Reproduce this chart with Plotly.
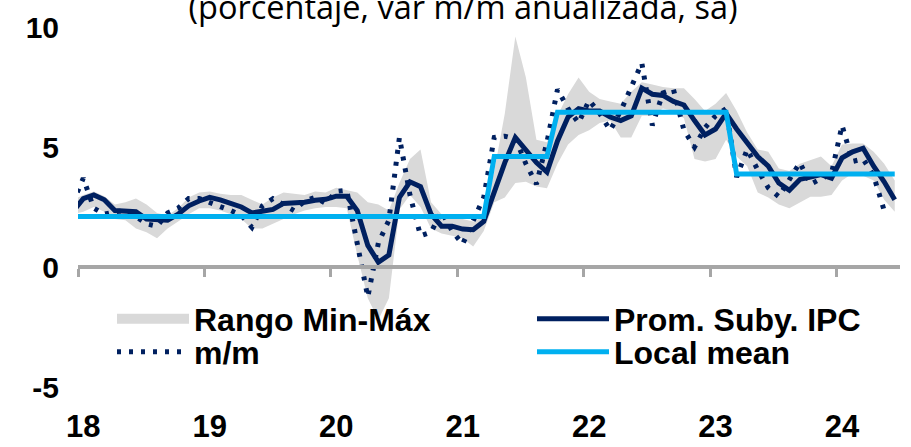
import plotly.graph_objects as go

# month index k (Jan-2018 = 0); first value is Dec-2017 (k=-1), clipped by axis
months = list(range(-1, 78))
year_labels = ["18", "19", "20", "21", "22", "23", "24"]

prom = [2.3, 2.85, 3.0, 2.8, 2.35, 2.35, 2.3, 2.0, 1.95, 1.95, 2.2, 2.55, 2.75,
        2.9, 2.8, 2.65, 2.5, 2.25, 2.3, 2.4, 2.65, 2.66, 2.7, 2.78, 2.82,
        2.95, 2.95, 2.35, 0.9, 0.2, 0.5, 2.9, 3.55, 3.35, 2.2, 1.7, 1.7,
        1.58, 1.55, 1.9, 3.2, 4.35, 5.4, 4.85, 4.35, 3.95, 5.25, 6.25, 6.6,
        6.5, 6.5, 6.25, 6.1, 6.3, 7.45, 7.2, 7.15, 6.9, 6.75, 6.1, 5.5,
        5.75, 6.4, 5.75, 5.2, 4.6, 4.2, 3.5, 3.2, 3.65, 3.75, 3.85, 3.7,
        4.55, 4.8, 4.95, 4.2, 3.55, 2.8]

mm = [2.65, 3.7, 2.45, 2.2, 2.3, 2.35, 2.1, 1.8, 1.7, 2.25, 2.45, 2.85, 2.85,
      2.7, 2.5, 2.35, 2.15, 1.65, 2.55, 2.85, 2.6, 2.35, 2.75, 2.9, 2.65,
      3.15, 3.2, 1.0, -1.25, 1.0, 1.95, 5.4, 3.0, 1.3, 1.45, 2.3, 1.5,
      0.95, 1.9, 2.9, 5.4, 5.45, 5.35, 4.3, 3.45, 5.2, 7.4, 6.6, 6.0,
      6.95, 6.4, 5.7, 6.5, 7.5, 8.5, 5.9, 7.25, 7.4, 5.7, 5.0, 5.8,
      6.3, 6.6, 3.75, 4.9, 4.05, 3.3, 2.93, 3.6, 4.35, 3.45, 3.7, 3.9,
      5.9, 4.4, 4.5, 3.8, 2.35]

band_hi = [2.8, 3.0, 3.15, 2.95, 2.6, 2.7, 2.85, 2.6, 2.25, 2.15, 2.45, 2.9, 3.1,
           3.15, 3.05, 3.0, 3.0, 2.8, 2.6, 2.9, 3.1, 3.05, 3.0, 3.15, 3.1,
           3.3, 3.2, 3.1, 2.7, 2.6, 2.35, 3.5, 4.5, 4.9, 2.7, 2.2, 2.1,
           2.0, 1.9, 2.1, 4.0, 6.4, 9.6, 7.9, 5.3, 5.2, 6.3, 7.2, 7.9,
           7.3, 7.0, 6.9, 6.8, 7.3, 7.7, 7.6, 7.5, 7.45, 7.45, 7.0, 6.5,
           6.8, 7.25, 6.5, 5.6, 4.9, 4.8, 4.1, 4.0, 4.3, 4.45, 4.6, 4.2,
           5.1, 5.15, 5.15, 4.8, 4.3, 3.6]

band_lo = [2.2, 2.3, 2.5, 2.3, 2.0, 1.95, 1.6, 1.45, 1.2, 1.6, 1.9, 2.2, 2.45,
           2.45, 2.35, 2.2, 2.0, 1.6, 1.6, 1.8, 2.0, 2.2, 2.35, 2.45, 2.5,
           2.5, 2.45, 0.5, -1.3, -2.2, -1.3, 2.4, 3.0, 2.5, 1.6, 1.4, 1.3,
           1.2, 0.85, 1.5, 2.7, 2.9, 3.5, 3.55, 3.35, 3.28, 4.3, 5.1, 5.5,
           5.7, 6.0, 6.1, 5.4, 5.4, 6.3, 6.3, 6.6, 6.5, 6.2, 4.5, 4.4,
           4.5, 5.3, 4.6, 4.2, 3.1, 2.9, 2.6, 2.45, 2.7, 2.93, 2.93, 3.0,
           3.6, 3.9, 3.8, 3.6, 2.8, 2.3]

local_mean = [2.1] * 40 + [4.6] * 6 + [6.45] * 17 + [3.87] * 16

NAVY = "#002060"
CYAN = "#00B0F0"
GREY_BAND = "#D9D9D9"
AXIS_GREY = "#A6A6A6"

xs = [k + 0.5 for k in months]
xs_mm = xs[:len(mm)]

BOLD = dict(family="Liberation Sans, Arial, sans-serif", size=31, color="black", weight="bold")

fig = go.Figure()
fig.add_trace(go.Scatter(x=xs, y=band_lo, mode="lines", line=dict(width=0),
                         showlegend=False, hoverinfo="skip"))
fig.add_trace(go.Scatter(x=xs, y=band_hi, mode="lines", line=dict(width=0),
                         fill="tonexty", fillcolor=GREY_BAND, showlegend=False,
                         hoverinfo="skip"))
fig.add_trace(go.Scatter(x=[None], y=[None], mode="lines", name="Rango Min-Máx",
                         line=dict(color=GREY_BAND, width=17), legend="legend"))
fig.add_trace(go.Scatter(x=xs_mm, y=mm, mode="lines", name="m/m",
                         line=dict(color=NAVY, width=5, dash="4px,8px"),
                         legend="legend2"))
fig.add_trace(go.Scatter(x=xs, y=prom, mode="lines", name="Prom. Suby. IPC",
                         line=dict(color=NAVY, width=5), legend="legend3"))
fig.add_trace(go.Scatter(x=xs, y=local_mean, mode="lines", name="Local mean",
                         line=dict(color=CYAN, width=5), legend="legend4",
                         xaxis="x2"))

leg_common = dict(font=dict(BOLD, size=32), bgcolor="rgba(0,0,0,0)", itemwidth=72,
                  xanchor="left", yanchor="middle")

row1 = (387 - 319) / 360
row2 = (387 - 352) / 360

fig.update_layout(
    width=911, height=447,
    margin=dict(l=78, r=11, t=27, b=60),
    paper_bgcolor="white", plot_bgcolor="white",
    title=dict(text="(porcentaje, var m/m anualizada, sa)",
               font=dict(family="Open Sans, sans-serif", size=32.5, color="black"),
               x=463 / 911, xanchor="center", xref="container",
               y=1 - 8 / 447, yanchor="middle", yref="container"),
    xaxis=dict(range=[0, 78], showgrid=False, zeroline=False, showline=False,
               automargin=False,
               ticks="", tickvals=[12 * i + 0.5 for i in range(len(year_labels))],
               ticktext=year_labels, tickfont=BOLD, ticklabelstandoff=18),
    xaxis2=dict(matches="x", overlaying="x", anchor="free", position=1 / 3,
                automargin=False,
                showgrid=False, zeroline=False, showline=True,
                linecolor=AXIS_GREY, linewidth=4, ticks="outside", ticklen=8,
                tickwidth=3, tickcolor=AXIS_GREY,
                tickvals=[12 * i for i in range(len(year_labels))],
                showticklabels=False),
    yaxis=dict(range=[-5, 10], showgrid=False, zeroline=False, showline=False,
               automargin=False,
               ticks="", tickvals=[-5, 0, 5, 10], ticktext=["-5", "0", "5", "10"],
               tickfont=dict(BOLD, size=30), ticklabelstandoff=18),
    legend=dict(leg_common, x=(112 - 78) / 822, y=row1),
    legend2=dict(leg_common, x=(112 - 78) / 822, y=row2),
    legend3=dict(leg_common, x=(532 - 78) / 822, y=row1),
    legend4=dict(leg_common, x=(532 - 78) / 822, y=row2),
)

fig.write_html("out.html", config={"displayModeBar": False},
               post_script="document.body.style.margin='0';")
